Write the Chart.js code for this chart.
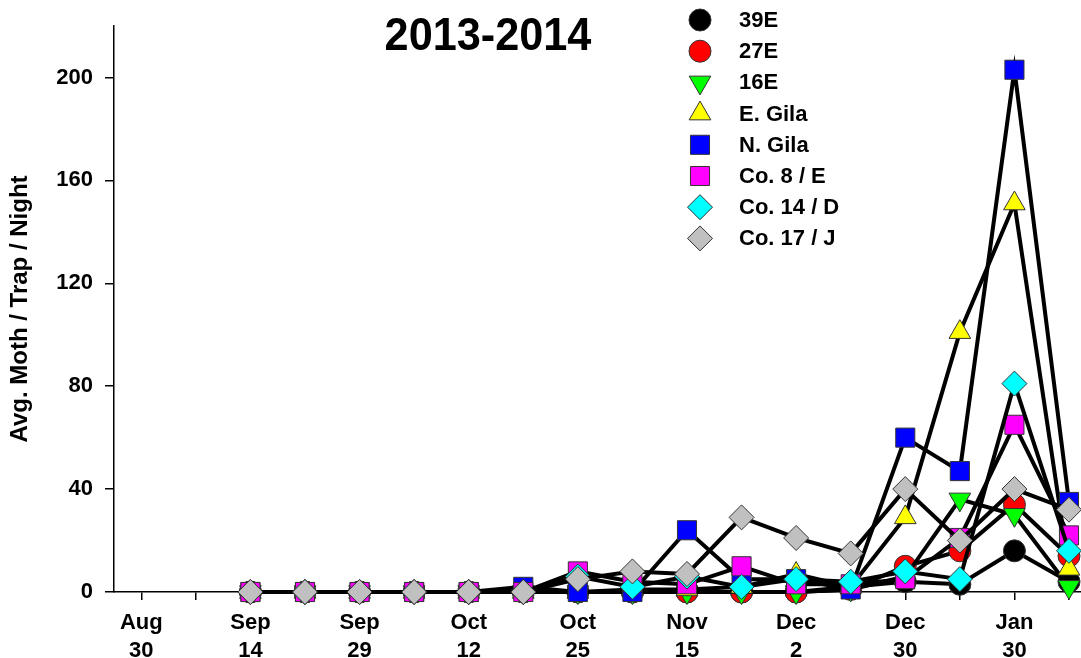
<!DOCTYPE html>
<html>
<head>
<meta charset="utf-8">
<script src="https://cdn.jsdelivr.net/npm/chart.js@4.4.0/dist/chart.umd.min.js"></script>
<style>
html, body { margin: 0; padding: 0; background: #fff; overflow: hidden; }
canvas { display: block; }
</style>
</head>
<body>
<canvas id="trapChart" width="1081" height="658" style="width:1081px;height:658px"></canvas>
<script>
// trap check dates (every second check is labelled)
const xLabels = [['Aug', '30'], '', ['Sep', '14'], '', ['Sep', '29'], '', ['Oct', '12'], '', ['Oct', '25'], '',
                 ['Nov', '15'], '', ['Dec', '2'], '', ['Dec', '30'], '', ['Jan', '30'], ''];
const yTicks = [0, 40, 80, 120, 160, 200];
const sites = ['39E', '27E', '16E', 'E. Gila', 'N. Gila', 'Co. 8 / E', 'Co. 14 / D', 'Co. 17 / J'];

// avg moth / trap / night, starting at the Sep 14 check (index 2)
const firstCheck = 2;
const s39E   = [0, 0, 0, 0, 0, 0, 0, 0, 0, 0, 0, 2, 4, 3, 16, 4];
const s27E   = [0, 0, 0, 0, 0, 0, 0, 0, 0, 0, 0, 1, 10, 16, 34, 14];
const s16E   = [0, 0, 0, 0, 0, 0, 0, 0, 0, 0, 0, 1, 6, 36, 30, 2];
const sEGila = [0, 0, 0, 0, 0, 0, 0, 1, 1, 2, 7, 2, 29, 101, 151, 9];
const sNGila = [0, 0, 0, 0, 0, 2, 0, 0, 24, 5, 5, 1, 60, 47, 203, 35];
const sCo8   = [0, 0, 0, 0, 0, 0, 8, 4, 3, 10, 3, 3, 5, 21, 65, 22];
const sCo14  = [0, 0, 0, 0, 0, 0, 6, 2, 6, 2, 5, 4, 8, 5, 81, 16];
const sCo17  = [0, 0, 0, 0, 0, 0, 5, 8, 7, 29, 21, 15, 40, 20, 40, 32];
const series = [s39E, s27E, s16E, sEGila, sNGila, sCo8, sCo14, sCo17];

// marker looks, same order as sites
const fills  = ['#000000', '#ff0000', '#00ff00', '#ffff00', '#0000ff', '#ff00ff', '#00ffff', '#c0c0c0'];
const shapes = ['circle', 'circle', 'triangle', 'triangle', 'rect', 'rect', 'rectRot', 'rectRot'];
const radii  = [11, 11, 12.5, 12.5, 13.5, 13.5, 12.5, 12.5];
const turns  = [0, 0, 180, 0, 0, 0, 0, 0];

const boldFont = 'Liberation Sans';
const xMin = -0.5, xMax = 17.22;

const datasets = sites.map((name, i) => ({
    label: name,
    data: series[i].map((v, k) => ({ x: firstCheck + k, y: v })),
    borderColor: '#000',
    borderWidth: 4,
    pointStyle: shapes[i],
    pointRadius: radii[i],
    pointRotation: turns[i],
    pointBackgroundColor: fills[i],
    pointBorderColor: '#333',
    pointBorderWidth: 1,
    tension: 0,
    clip: false,
    order: sites.length - i   // later sites drawn on top
}));

// title and legend drawn by hand so they sit where the original puts them
const overlay = {
    id: 'overlay',
    afterDraw(chart) {
        const ctx = chart.ctx;
        ctx.save();
        ctx.fillStyle = '#000';
        ctx.font = 'bold 47px "' + boldFont + '"';
        ctx.textAlign = 'center';
        ctx.textBaseline = 'alphabetic';
        ctx.translate(488, 50);
        ctx.scale(0.92, 1);   // original title face is a bit narrower
        ctx.fillText('2013-2014', 0, 0);
        ctx.restore();

        ctx.save();
        ctx.font = 'bold 22px "' + boldFont + '"';
        ctx.textAlign = 'left';
        ctx.textBaseline = 'middle';
        chart.data.datasets.forEach((ds, i) => {
            const y = 20 + i * 31.2;
            ctx.fillStyle = ds.pointBackgroundColor;
            ctx.strokeStyle = ds.pointBorderColor;
            ctx.lineWidth = 1;
            Chart.helpers.drawPoint(ctx, {
                pointStyle: ds.pointStyle,
                radius: ds.pointRadius,
                rotation: ds.pointRotation,
                borderWidth: 1
            }, 700, y);
            ctx.fillStyle = '#000';
            ctx.fillText(ds.label, 739, y + 1);
        });
        ctx.restore();
    }
};

new Chart(document.getElementById('trapChart'), {
    type: 'line',
    data: { datasets },
    options: {
        responsive: false,
        animation: false,
        events: [],
        layout: { autoPadding: false, padding: { top: 26, right: 0, left: 0, bottom: 0 } },
        plugins: {
            legend: { display: false },
            title: { display: false },
            tooltip: { enabled: false }
        },
        scales: {
            x: {
                type: 'linear',
                bounds: 'data',
                min: xMin,
                max: xMax,
                afterBuildTicks: s => {
                    s.ticks = xLabels.map((_, i) => ({ value: i }));
                    s.min = xMin;
                    s.max = xMax;
                },
                afterFit: s => { s.height = 66; s.paddingLeft = 0; s.paddingRight = 0; },
                ticks: {
                    autoSkip: false,
                    maxRotation: 0,
                    padding: 9,
                    color: '#000',
                    font: { family: boldFont, size: 22, weight: 'bold', lineHeight: 1.27 },
                    callback: v => xLabels[v] || ''
                },
                grid: { drawOnChartArea: false, tickLength: 8, color: '#000', lineWidth: 1.5 },
                border: { color: '#000', width: 1.5 }
            },
            y: {
                min: 0,
                max: 220,
                afterBuildTicks: s => { s.ticks = yTicks.map(v => ({ value: v })); },
                afterFit: s => { s.width = 114; s.paddingTop = 0; s.paddingBottom = 0; },
                ticks: {
                    padding: 12,
                    color: '#000',
                    font: { family: boldFont, size: 22, weight: 'bold' }
                },
                grid: { drawOnChartArea: false, tickLength: 9, color: '#000', lineWidth: 1.5 },
                border: { color: '#000', width: 1.5 },
                title: {
                    display: true,
                    text: 'Avg. Moth / Trap / Night',
                    color: '#000',
                    font: { family: boldFont, size: 24, weight: 'bold' },
                    padding: { top: 6, bottom: 0 }
                }
            }
        }
    },
    plugins: [overlay]
});
</script>
</body>
</html>
